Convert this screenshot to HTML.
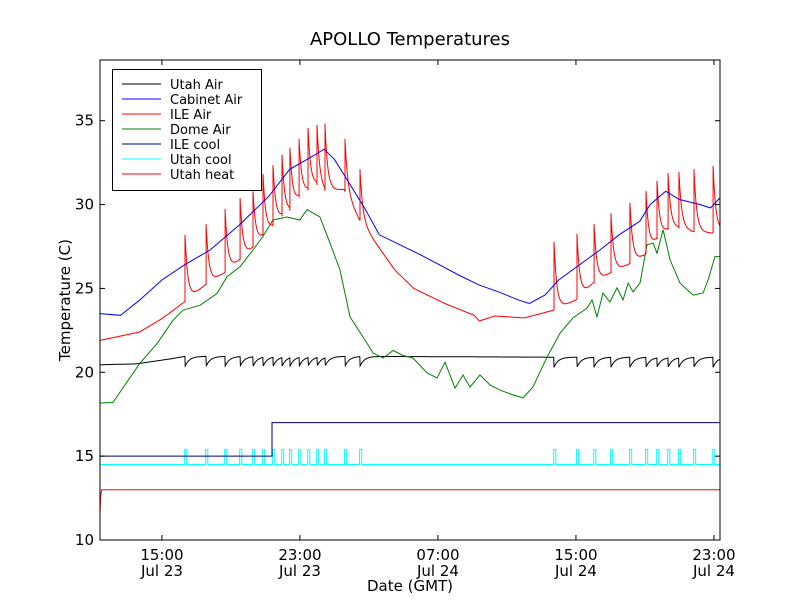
<!DOCTYPE html>
<html><head><meta charset="utf-8"><style>
body{margin:0;background:#fff;}
svg{display:block;font-family:"DejaVu Sans","Liberation Sans",sans-serif;}
</style></head><body>
<svg id="chart" width="800" height="600" viewBox="0 0 800 600">
<rect x="0" y="0" width="800" height="600" fill="#fff"/>
<text x="410" y="45" font-size="18" text-anchor="middle">APOLLO Temperatures</text>
<g id="plot"></g>
<g id="axes"></g>
<text x="410" y="591" font-size="15" text-anchor="middle">Date (GMT)</text>
<text transform="translate(70,300) rotate(-90)" font-size="15" text-anchor="middle">Temperature (C)</text>
<g id="legend"></g>
</svg>
<script>
// ---- data (hours since Jul 23 00:00 GMT, temperatures in C) ----
const yTicks = [10, 15, 20, 25, 30, 35];
const xTickHours = [15, 23, 31, 39, 47];
const xTickTimes = ["15:00", "23:00", "07:00", "15:00", "23:00"];
const xTickDays = ["Jul 23", "Jul 23", "Jul 24", "Jul 24", "Jul 24"];
const seriesNames = ["Utah Air", "Cabinet Air", "ILE Air", "Dome Air", "ILE cool", "Utah cool", "Utah heat"];
const seriesColors = ["#000000", "#0000ff", "#ff0000", "#008000", "#00007f", "#00ffff", "#ff0000"];

const cabinetHours = [11.41,12.6,13.7,15,16.3,17.8,19.5,21.2,22.4,23.6,24.4,25,25.9,26.8,27.6,28.8,30,31.1,32.2,33.4,34.5,35.7,36.3,37.2,38,39.2,40.4,41.5,42.7,43.3,44.2,45,46.2,46.8,47.35];
const cabinetTemps = [23.5,23.4,24.3,25.5,26.4,27.3,28.8,30.5,32.1,32.8,33.3,32.7,31.2,29.7,28.2,27.6,27.0,26.4,25.8,25.2,24.8,24.3,24.1,24.6,25.5,26.4,27.3,28.2,29.0,30.0,30.8,30.3,30.0,29.8,30.4];

const spikeHours = [16.34,17.56,18.66,19.53,20.28,20.86,21.44,21.96,22.42,22.95,23.47,23.99,24.45,25.61,26.48,
  37.73,39.06,40.05,41.03,42.13,43.06,43.7,44.34,44.97,45.84,46.95];
const ilePeaks = [28.19,28.83,29.74,30.38,30.8,31.83,32.35,32.96,33.38,33.91,34.57,34.75,34.83,33.91,32.11,
  27.77,28.25,28.84,29.49,30.1,30.81,31.41,31.88,31.94,32.12,32.3];
const ileBaseHours = [11.41,13.7,15,16.3,17.5,18.6,19.5,20.25,20.8,21.4,21.9,22.4,22.9,23.4,23.95,24.4,25.55,26.45,26.6,27.4,28.5,29.6,31.4,33.1,33.4,34.3,36.0,37.7,39.0,40.0,41.0,42.1,43.0,43.65,44.3,44.9,45.8,46.9,47.35];
const ileBaseTemps = [21.9,22.4,23.2,24.19,25.2,25.92,26.7,27.41,28.07,28.66,29.26,29.6,30.38,30.8,31.2,30.8,30.9,29.08,28.9,27.7,26.1,25.0,24.1,23.4,23.06,23.36,23.24,23.7,24.31,25.32,25.92,26.46,27.0,27.89,28.49,28.6,28.37,28.3,28.4];

const domeHours = [11.41,12.16,13.73,14.71,15.64,16.22,17.21,18.19,18.77,19.53,20.28,20.86,21.44,22.25,23.0,23.41,24.16,24.74,25.32,25.9,26.66,27.24,27.82,28.4,28.98,29.55,30.37,30.95,31.41,31.99,32.45,32.86,33.44,34.02,34.6,35.35,35.93,36.51,37.32,38.08,38.83,39.64,39.93,40.22,40.57,40.97,41.38,41.73,42.02,42.31,42.71,43.12,43.47,43.7,44.05,44.46,45.03,45.79,46.37,46.66,47.06,47.35];
const domeTemps = [18.17,18.2,20.55,21.7,23.1,23.7,24.0,24.7,25.7,26.3,27.3,28.1,29.08,29.26,29.08,29.7,29.26,27.7,26.1,23.3,22.1,21.15,20.85,21.3,21.0,20.85,19.96,19.66,20.6,19.06,19.84,19.12,19.84,19.24,18.94,18.65,18.47,19.12,20.9,22.34,23.24,23.83,24.31,23.3,24.73,24.19,25.03,24.31,25.32,24.79,25.32,27.6,27.7,27.1,28.5,26.7,25.32,24.6,24.73,25.5,26.9,26.9];

const utahBaseHours = [11.41,13.5,15.5,16.34,26.48,37.73,47.35];
const utahBaseTemps = [20.45,20.5,20.8,20.95,20.95,20.9,20.9];
const utahDip = 0.6;

const ileCoolHours = [11.41,21.38,21.38,47.35];
const ileCoolTemps = [15,15,17,17];
const utahCoolBase = 14.5;
const utahCoolPulse = 15.4;
const utahHeatHours = [11.41,11.45,11.5,47.35];
const utahHeatTemps = [11.6,12.6,13,13];

// ---- scales ----
const X0=100,X1=720,Y0=540,Y1=60,HMIN=11.41,HMAX=47.35,TMIN=10,TMAX=38.62;
const sx = h => X0 + (h-HMIN)/(HMAX-HMIN)*(X1-X0);
const sy = v => Y0 - (v-TMIN)/(TMAX-TMIN)*(Y0-Y1);
const NS='http://www.w3.org/2000/svg';
const plot=document.getElementById('plot'), axes=document.getElementById('axes'), legend=document.getElementById('legend');
function interp(hs, vs, h){
  if(h<=hs[0]) return vs[0];
  for(let i=1;i<hs.length;i++){ if(h<=hs[i]){const f=(h-hs[i-1])/((hs[i]-hs[i-1])||1);return vs[i-1]+f*(vs[i]-vs[i-1]);} }
  return vs[vs.length-1];
}
function lastSpike(h){ let k=-1; for(let i=0;i<spikeHours.length;i++) if(spikeHours[i]<=h) k=i; return k; }
function pathFrom(pts){ return pts.map((p,i)=>(i?'L':'M')+sx(p[0]).toFixed(1)+','+sy(p[1]).toFixed(1)).join(''); }
function addLine(pts,color,name){
  const p=document.createElementNS(NS,'path');
  p.setAttribute('d',pathFrom(pts)); p.setAttribute('fill','none'); p.setAttribute('stroke',color); p.setAttribute('stroke-width','1');
  
  
  plot.appendChild(p);
}
const clip=document.createElementNS(NS,'clipPath'); clip.setAttribute('id','pc');
const cr=document.createElementNS(NS,'rect'); cr.setAttribute('x',X0);cr.setAttribute('y',Y1);cr.setAttribute('width',X1-X0);cr.setAttribute('height',Y0-Y1);
clip.appendChild(cr); document.getElementById('chart').appendChild(clip); plot.setAttribute('clip-path','url(#pc)');

// Utah heat
addLine(utahHeatHours.map((h,i)=>[h,utahHeatTemps[i]]), seriesColors[6], 'utah-heat-line');
// Utah cool (pulses at spike times)
{ const pts=[[HMIN,utahCoolBase]];
  spikeHours.forEach(h=>{ pts.push([h-0.02,utahCoolBase],[h-0.02,utahCoolPulse],[h+0.1,utahCoolPulse],[h+0.1,utahCoolBase]); });
  pts.push([HMAX,utahCoolBase]); addLine(pts, seriesColors[5], 'utah-cool-line'); }
// ILE cool
addLine(ileCoolHours.map((h,i)=>[h,ileCoolTemps[i]]), seriesColors[4], 'ile-cool-line');
// Utah Air (sawtooth dips at spike times)
{ const pts=[]; for(let h=HMIN;h<=HMAX+1e-6;h+=0.02){ const b=interp(utahBaseHours,utahBaseTemps,h); const k=lastSpike(h);
    let v=b; if(k>=0){ const dt=h-spikeHours[k]; const next=(k+1<spikeHours.length)?spikeHours[k+1]-spikeHours[k]:1; if(dt<Math.min(next,1.2)) v=b-utahDip*Math.exp(-dt/0.25);} pts.push([h,v]); }
  addLine(pts, seriesColors[0], 'utah-air-line'); }
// Dome Air
addLine(domeHours.map((h,i)=>[h,domeTemps[i]]), seriesColors[3], 'dome-air-line');
// ILE Air (spikes with decay)
{ const pts=[]; let prevK=-1;
  for(let h=HMIN;h<=HMAX+1e-6;h+=0.01){ const k=lastSpike(h); const b=interp(ileBaseHours,ileBaseTemps,h);
    if(k!==prevK && k>=0){ const bs=interp(ileBaseHours,ileBaseTemps,spikeHours[k]); pts.push([spikeHours[k],bs],[spikeHours[k],ilePeaks[k]]); prevK=k; }
    let v=b; if(k>=0){ const bs=interp(ileBaseHours,ileBaseTemps,spikeHours[k]); v=b+(ilePeaks[k]-bs)*Math.exp(-(h-spikeHours[k])/0.16); }
    pts.push([h,v]); }
  addLine(pts, seriesColors[2], 'ile-air-line'); }
// Cabinet Air
addLine(cabinetHours.map((h,i)=>[h,cabinetTemps[i]]), seriesColors[1], 'cabinet-air-line');

// ---- axes ----
function el(tag,attrs,parent,text){ const e=document.createElementNS(NS,tag); for(const k in attrs) e.setAttribute(k,attrs[k]); if(text!==undefined) e.textContent=text; parent.appendChild(e); return e; }
const frame=el('rect',{x:X0,y:Y1,width:X1-X0,height:Y0-Y1,fill:'none',stroke:'#000','stroke-width':1},axes);


yTicks.forEach(v=>{ const y=sy(v);
  el('line',{x1:X0,x2:X0+5,y1:y,y2:y,stroke:'#000'},axes); el('line',{x1:X1-5,x2:X1,y1:y,y2:y,stroke:'#000'},axes);
  const t=el('text',{x:X0-6,y:y+5,'font-size':15,'text-anchor':'end'},axes,String(v));
  
   });
xTickHours.forEach((h,i)=>{ const x=sx(h);
  el('line',{x1:x,x2:x,y1:Y0,y2:Y0-5,stroke:'#000'},axes); el('line',{x1:x,x2:x,y1:Y1,y2:Y1+5,stroke:'#000'},axes);
  const t=el('text',{x:x,y:Y0+20,'font-size':15,'text-anchor':'middle'},axes,xTickTimes[i]);
  
  
  const d=el('text',{x:x,y:Y0+36,'font-size':15,'text-anchor':'middle'},axes,xTickDays[i]);
  
   });

// ---- legend ----
el('rect',{x:112.5,y:69.5,width:149,height:121,fill:'#fff',stroke:'#000'},legend);
seriesNames.forEach((n,i)=>{ const y=84+i*15;
  const g=el('g',{},legend);
  
  
  el('line',{x1:122,x2:161,y1:y,y2:y,stroke:seriesColors[i]},g);
  el('text',{x:170,y:y+5,'font-size':13},g,n); });
</script>
</body></html>
